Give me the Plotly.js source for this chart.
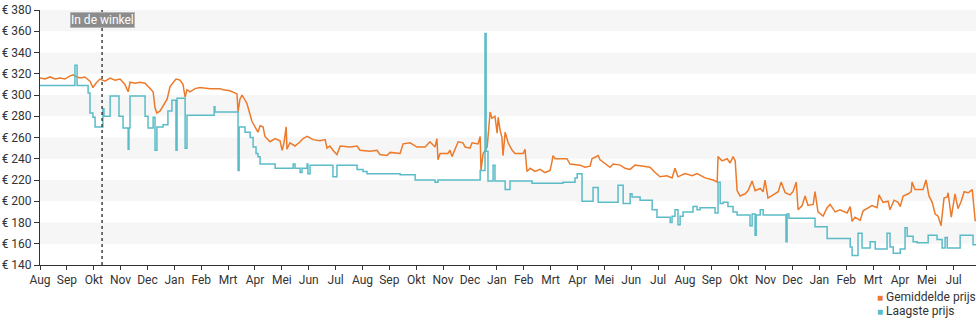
<!DOCTYPE html>
<html>
<head>
<meta charset="utf-8">
<script src="https://cdn.plot.ly/plotly-3.0.1.min.js"></script>
<style>html,body{margin:0;padding:0;background:#fff;}#chart{width:980px;height:325px;}</style>
</head>
<body>
<div id="chart"></div>
<script>
// x values are months since the first August on the axis
const xTickLabels = ['Aug','Sep','Okt','Nov','Dec','Jan','Feb','Mrt','Apr','Mei','Jun','Jul',
  'Aug','Sep','Okt','Nov','Dec','Jan','Feb','Mrt','Apr','Mei','Jun','Jul',
  'Aug','Sep','Okt','Nov','Dec','Jan','Feb','Mrt','Apr','Mei','Jul'];
const yTicks = [140,160,180,200,220,240,260,280,300,320,340,360,380];
const seriesNames = ['Gemiddelde prijs','Laagste prijs'];
const eventT = 2.31;
const eventLabel = 'In de winkel';

const avgT = [0,0.19,0.37,0.56,0.74,0.93,1.12,1.23,1.38,1.49,
1.67,1.86,1.97,2.08,2.23,2.42,2.61,2.79,2.98,3.16,
3.28,3.35,3.54,3.72,3.91,4.09,4.21,4.28,4.35,4.47,
4.58,4.73,4.84,4.95,5.06,5.21,5.32,5.40,5.47,5.58,
5.77,5.95,6.33,6.70,6.81,7.07,7.26,7.33,7.37,7.44,
7.52,7.70,7.89,8.00,8.11,8.19,8.30,8.37,8.56,8.75,
8.93,9.01,9.08,9.16,9.19,9.30,9.49,9.68,9.79,9.94,
10.16,10.42,10.61,10.68,10.79,10.90,11.05,11.17,11.54,11.80,
11.91,12.28,12.54,12.65,12.91,13.03,13.40,13.51,13.77,14.03,
14.33,14.51,14.70,14.77,14.81,14.89,15.18,15.26,15.33,15.56,
15.74,15.82,16.00,16.08,16.30,16.38,16.41,16.49,16.64,16.75,
16.82,16.93,17.01,17.05,17.12,17.19,17.23,17.31,17.42,17.57,
17.68,17.98,18.05,18.12,18.24,18.42,18.61,18.79,18.98,19.05,
19.09,19.17,19.61,19.72,20.10,20.28,20.47,20.54,20.77,20.84,
21.03,21.21,21.33,21.59,21.77,21.96,22.14,22.52,22.70,22.89,
23.07,23.33,23.52,23.63,23.74,24.00,24.27,24.45,24.75,25.05,
25.20,25.23,25.38,25.57,25.68,25.79,25.87,25.94,26.05,26.24,
26.35,26.50,26.61,26.80,26.91,26.98,27.09,27.28,27.47,27.58,
27.73,27.91,28.02,28.14,28.21,28.36,28.47,28.58,28.77,28.84,
28.95,29.14,29.29,29.40,29.59,29.77,30.03,30.15,30.22,30.33,
30.52,30.63,30.78,30.96,31.15,31.22,31.37,31.56,31.63,31.78,
31.93,32.01,32.12,32.31,32.42,32.45,32.56,32.86,32.97,33.08,
33.20,33.31,33.42,33.53,33.64,33.76,33.79,33.91,34.05,34.16,
34.28,34.39,34.54,34.69,34.80,34.83];
const avgPrice = [316,315,317,315,316,315,318,319,317,316,
317,313,307,311,315,313,316,314,315,310,
303,312,311,312,311,306,303,288,283,285,
290,296,308,312,315,314,310,298,305,303,
306,307,306,306,305,304,302,301,284,296,
300,292,275,270,265,271,270,261,256,259,
257,248,255,270,249,255,252,256,259,261,
258,257,258,250,252,248,244,252,251,252,
248,247,248,244,243,246,245,254,255,251,
251,256,251,259,239,245,245,248,242,256,
255,251,250,255,254,261,229,245,251,284,
278,280,264,279,267,260,243,265,255,248,
245,245,249,228,231,228,230,227,229,237,
243,240,240,235,234,232,233,240,243,239,
235,232,235,234,231,230,234,233,232,227,
223,224,222,231,223,226,224,226,222,220,
218,242,238,240,236,242,238,210,205,207,
210,219,210,212,209,220,203,206,209,218,
208,206,209,218,192,196,205,196,197,209,
190,186,194,197,190,192,189,195,181,185,
182,191,193,196,194,206,199,200,192,201,
199,195,205,207,209,218,211,211,220,205,
199,188,186,177,203,204,208,185,207,193,
200,209,208,211,182,182];

const lowT = [0,1.30,1.38,1.79,1.86,1.97,2.05,2.34,2.38,2.61,
2.94,3.09,3.28,3.31,3.35,3.91,4.02,4.21,4.28,4.35,
4.58,4.76,4.91,5.06,5.10,5.40,5.47,6.48,6.51,7.37,
7.41,7.63,7.82,7.93,8.04,8.11,8.19,8.75,9.42,9.49,
9.68,9.75,9.94,9.97,10.05,10.90,11.05,11.80,12.02,12.17,
13.40,13.96,14.70,14.81,16.38,16.56,16.60,16.67,16.86,16.93,
17.31,17.49,18.31,19.46,19.91,19.99,20.17,20.58,20.77,21.51,
21.70,21.96,22.03,22.33,22.78,22.96,23.45,23.52,23.63,23.74,
23.82,23.93,24.30,24.45,24.56,25.12,25.23,25.31,25.42,25.60,
25.79,25.94,26.42,26.50,26.61,26.65,26.80,26.91,27.76,27.80,
27.87,28.84,29.29,30.15,30.22,30.44,30.59,30.89,31.08,31.52,
31.63,31.75,32.01,32.19,32.27,32.49,32.64,33.05,33.38,33.57,
33.68,33.76,34.24,34.72,34.83];
const lowPrice = [309,328,309,302,283,279,270,287,280,299,
280,269,249,269,299,280,269,279,248,270,
272,285,295,248,297,250,281,289,284,229,
270,265,260,251,245,242,235,231,235,231,
227,231,235,226,234,223,234,230,228,226,
225,220,218,220,229,358,247,219,234,219,
211,219,217,218,222,226,200,213,199,215,
198,207,204,201,192,185,180,186,192,178,
186,190,195,192,194,189,218,198,199,195,
190,187,177,188,168,187,192,187,162,188,
184,176,165,157,149,170,156,162,155,170,
157,151,155,175,167,162,161,168,164,156,
166,156,168,159,159];

const colAvg = '#ec7a2a';
const colLow = '#5bbcc8';
const xMax = 34.83;

const traces = [
  {type:'scatter', mode:'lines', name:seriesNames[0], x:avgT, y:avgPrice,
   line:{color:colAvg, width:1.5}, hoverinfo:'x+y'},
  {type:'scatter', mode:'lines', name:seriesNames[1], x:lowT, y:lowPrice,
   line:{color:colLow, width:1.5, shape:'hv'}, hoverinfo:'x+y'}
];

const shapes = [];
for (let i = 0; i < yTicks.length - 1; i++) {
  const top = yTicks[yTicks.length - 1 - i];
  const bottom = yTicks[yTicks.length - 2 - i];
  if (i % 2 === 0) {
    shapes.push({type:'rect', xref:'paper', yref:'y', x0:0, x1:1, y0:bottom, y1:top,
      fillcolor:'#f6f6f6', line:{width:0}, layer:'below'});
  }
}
shapes.push({type:'line', xref:'x', yref:'paper', x0:eventT, x1:eventT, y0:0, y1:1,
  line:{color:'#444', width:1.5, dash:'dot'}});

const annotations = [
  {xref:'x', yref:'y', x:eventT, y:371, text:eventLabel, showarrow:false,
   font:{family:'Roboto, Arial, sans-serif', size:12, color:'#fff'},
   bgcolor:'#8c8c8c', bordercolor:'#b5b5b5', borderwidth:1, borderpad:0},
  {xref:'paper', yref:'paper', x:0.892, y:-0.126, xanchor:'left', yanchor:'middle', showarrow:false,
   text:'<span style="color:'+colAvg+';font-size:10px">■</span> '+seriesNames[0],
   font:{family:'Roboto, Arial, sans-serif', size:12, color:'#333'}},
  {xref:'paper', yref:'paper', x:0.892, y:-0.181, xanchor:'left', yanchor:'middle', showarrow:false,
   text:'<span style="color:'+colLow+';font-size:10px">■</span> '+seriesNames[1],
   font:{family:'Roboto, Arial, sans-serif', size:12, color:'#333'}}
];

const layout = {
  width:980, height:325,
  margin:{l:40, r:4, t:10, b:60},
  paper_bgcolor:'#ffffff', plot_bgcolor:'#ffffff',
  font:{family:'Roboto, Arial, sans-serif', size:12, color:'#333'},
  showlegend:false,
  xaxis:{range:[0, xMax], tickmode:'array', tickvals:xTickLabels.map((_, i) => i), ticktext:xTickLabels,
    showgrid:false, zeroline:false, showline:true, linecolor:'#333', linewidth:1,
    ticks:'outside', ticklen:4, tickcolor:'#333', tickfont:{size:12, color:'#333'}},
  yaxis:{range:[140, 380], tickmode:'array', tickvals:yTicks, ticktext:yTicks.map(v => '€ ' + v),
    showgrid:false, zeroline:false, showline:true, linecolor:'#333', linewidth:1,
    ticks:'outside', ticklen:5, tickcolor:'#333', tickfont:{size:12, color:'#333'}},
  shapes:shapes,
  annotations:annotations
};

Plotly.newPlot('chart', traces, layout, {displayModeBar:false, staticPlot:true});
</script>
</body>
</html>
